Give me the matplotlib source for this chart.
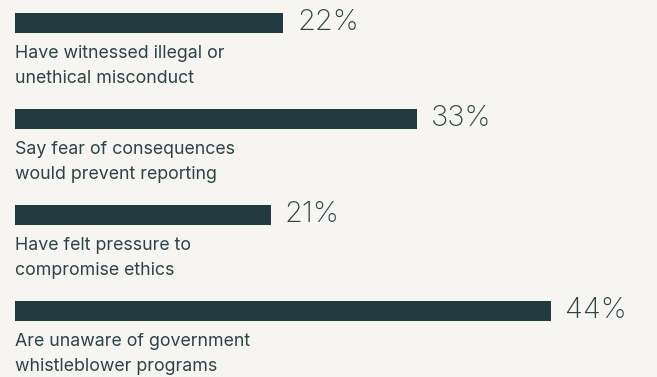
import matplotlib.pyplot as plt

labels = [
    "Have witnessed illegal or\nunethical misconduct",
    "Say fear of consequences\nwould prevent reporting",
    "Have felt pressure to\ncompromise ethics",
    "Are unaware of government\nwhistleblower programs",
]
values = [22, 33, 21, 44]

bg = "#f6f5f1"
bar_color = "#213a40"
text_color = "#2e4347"

plt.rcParams['font.family'] = ['Inter', 'DejaVu Sans']

fig = plt.figure(figsize=(6.57, 3.77), dpi=100, facecolor=bg)
ax = fig.add_axes([0, 0, 1, 1])
ax.set_facecolor(bg)

px = 12.19  # pixels per percent
ax.set_xlim(-15 / px, (657 - 15) / px)
ax.set_ylim((377 - 23) / 96, -23 / 96)

ypos = list(range(len(values)))
ax.barh(ypos, values, height=20 / 96, color=bar_color)

for y, v, lab in zip(ypos, values, labels):
    ax.annotate(f"{v}%", xy=(v, y), xytext=(14, -7.5), textcoords='offset pixels',
                ha='left', va='baseline', fontsize=21, fontweight='light',
                color=text_color)
    # each line of the label placed on its own baseline
    for k, line in enumerate(lab.split("\n")):
        ax.annotate(line, xy=(0, y), xytext=(0, -35 - 25 * k),
                    textcoords='offset pixels', ha='left', va='baseline',
                    fontsize=12.8, color=text_color)

ax.axis('off')
fig.savefig('out.png', dpi=100, facecolor=bg)
